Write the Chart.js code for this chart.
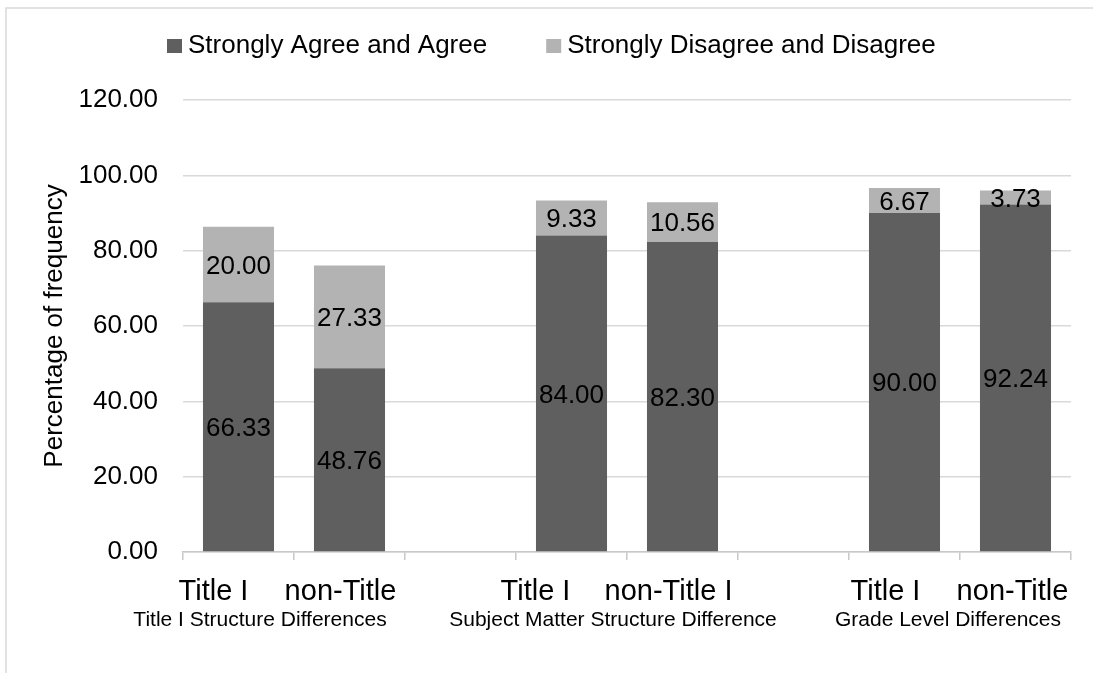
<!DOCTYPE html>
<html>
<head>
<meta charset="utf-8">
<script src="https://cdn.jsdelivr.net/npm/chart.js@4.4.0/dist/chart.umd.min.js"></script>
<style>
  html, body { margin: 0; padding: 0; background: #ffffff; }
  #wrap { width: 1093px; height: 673px; position: relative; }
</style>
</head>
<body>
<div id="wrap"><canvas id="chart"></canvas></div>
<script>
// Sub-categories (blank slots separate the three groups)
const categories = ['Title I', 'non-Title', '', 'Title I', 'non-Title I', '', 'Title I', 'non-Title'];
// Group captions, each spanning two sub-categories
const groups = ['Title I Structure Differences', 'Subject Matter Structure Difference', 'Grade Level Differences'];
const groupMembers = [[0, 1], [3, 4], [6, 7]];
// Series values (percent)
const agreeValues = [66.33, 48.76, null, 84.00, 82.30, null, 90.00, 92.24];
const disagreeValues = [20.00, 27.33, null, 9.33, 10.56, null, 6.67, 3.73];
const seriesNames = ['Strongly Agree and Agree', 'Strongly Disagree and Disagree'];
// Value axis
const yMin = 0, yMax = 120, yStep = 20;

const FONT = '"Liberation Sans", Arial, Helvetica, sans-serif';
const DARK = '#5f5f5f';
const LIGHT = '#b3b3b3';

// Outer frame of the chart
const framePlugin = {
  id: 'frame',
  beforeDraw(chart) {
    const ctx = chart.ctx;
    ctx.save();
    ctx.fillStyle = '#ffffff';
    ctx.fillRect(0, 0, chart.width, chart.height);
    ctx.strokeStyle = '#d9d9d9';
    ctx.lineWidth = 1.5;
    ctx.strokeRect(6, 8, chart.width + 10, chart.height + 10);
    ctx.restore();
  }
};

// Value labels, category/group captions and legend
const annotatePlugin = {
  id: 'annotate',
  afterDatasetsDraw(chart) {
    const ctx = chart.ctx;
    ctx.save();
    ctx.font = '26px ' + FONT;
    ctx.fillStyle = '#000000';
    ctx.textAlign = 'center';
    ctx.textBaseline = 'middle';
    chart.data.datasets.forEach((ds, di) => {
      const meta = chart.getDatasetMeta(di);
      meta.data.forEach((el, i) => {
        const v = ds.data[i];
        if (v === null || v === undefined) return;
        ctx.fillText(v.toFixed(2), el.x, (el.y + el.base) / 2 + 2);
      });
    });
    ctx.restore();
  },
  afterDraw(chart, args, opts) {
    const ctx = chart.ctx;
    const xs = chart.scales.x;
    const bottom = chart.chartArea.bottom;
    ctx.save();
    ctx.fillStyle = '#000000';
    ctx.textAlign = 'center';
    ctx.textBaseline = 'alphabetic';

    // sub-category captions
    ctx.font = '29px ' + FONT;
    categories.forEach((c, i) => {
      if (!c) return;
      ctx.fillText(c, xs.getPixelForValue(i) + opts.tickShift[i], bottom + 48);
    });

    // group captions
    ctx.font = '21px ' + FONT;
    groups.forEach((g, gi) => {
      const [a, b] = groupMembers[gi];
      const cx = (xs.getPixelForValue(a) + xs.getPixelForValue(b)) / 2 + opts.groupShift[gi];
      ctx.fillText(g, cx, bottom + 74);
    });

    // legend
    ctx.font = '26px ' + FONT;
    ctx.textAlign = 'left';
    ctx.textBaseline = 'middle';
    let x = opts.legendX;
    const cy = opts.legendY;
    chart.data.datasets.forEach((ds) => {
      ctx.fillStyle = ds.backgroundColor;
      ctx.fillRect(x, cy - 7, 15, 14);
      ctx.fillStyle = '#000000';
      ctx.fillText(ds.label, x + 21, cy);
      x += 21 + ctx.measureText(ds.label).width + 59;
    });
    ctx.restore();
  }
};

new Chart(document.getElementById('chart'), {
  type: 'bar',
  data: {
    labels: categories,
    datasets: [
      {
        label: seriesNames[0],
        data: agreeValues,
        backgroundColor: DARK,
        borderWidth: 0,
        barPercentage: 0.64,
        categoryPercentage: 1.0
      },
      {
        label: seriesNames[1],
        data: disagreeValues,
        backgroundColor: LIGHT,
        borderWidth: 0,
        barPercentage: 0.64,
        categoryPercentage: 1.0
      }
    ]
  },
  options: {
    responsive: true,
    maintainAspectRatio: false,
    animation: false,
    layout: { padding: { top: 100, right: 22, bottom: 0, left: 0 } },
    plugins: {
      legend: { display: false },
      tooltip: { enabled: false },
      annotate: {
        tickShift: [-25, -9, 0, -36, -14, 0, -19, -3],
        groupShift: [-34, -14, -12],
        legendX: 167,
        legendY: 46
      }
    },
    scales: {
      x: {
        stacked: true,
        offset: true,
        grid: {
          display: true,
          offset: true,
          drawOnChartArea: false,
          drawTicks: true,
          tickLength: 8,
          color: '#c8c8c8',
          lineWidth: 1.5
        },
        border: { display: true, color: '#c8c8c8', width: 1.5 },
        ticks: { display: false },
        afterFit(scale) { scale.height = 121; }
      },
      y: {
        stacked: true,
        min: yMin,
        max: yMax,
        ticks: {
          stepSize: yStep,
          padding: 25,
          color: '#000000',
          font: { family: FONT, size: 26 },
          callback: (v) => Number(v).toFixed(2)
        },
        grid: { color: '#d9d9d9', lineWidth: 1.5, drawTicks: false },
        border: { display: false },
        title: {
          display: true,
          text: 'Percentage of frequency',
          color: '#000000',
          font: { family: FONT, size: 26 },
          padding: { top: 39, bottom: 0 }
        },
        afterFit(scale) { scale.width = 183; }
      }
    }
  },
  plugins: [framePlugin, annotatePlugin]
});
</script>
</body>
</html>
